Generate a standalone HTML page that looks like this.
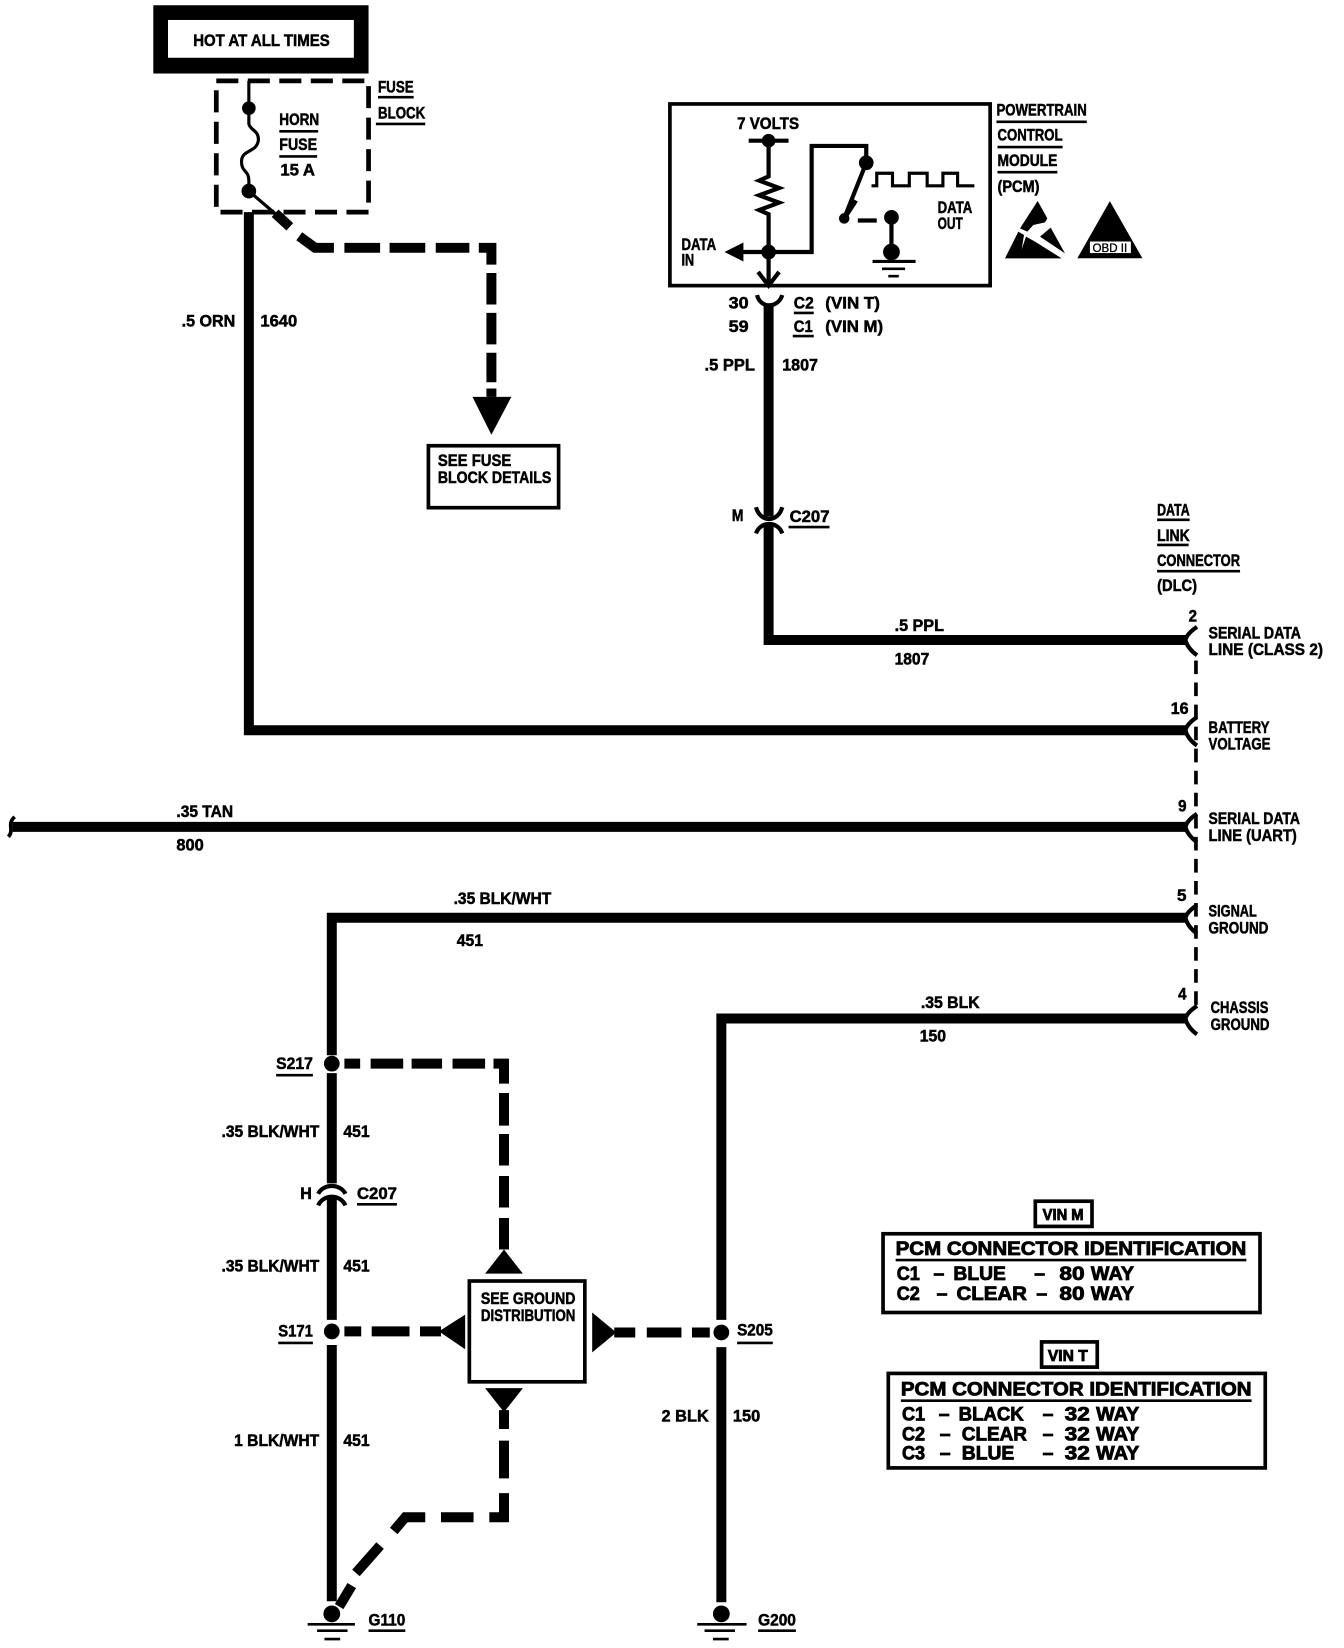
<!DOCTYPE html>
<html>
<head>
<meta charset="utf-8">
<style>
html,body{margin:0;padding:0;background:#fff;width:1344px;height:1648px;overflow:hidden}
svg{display:block}
text{font-family:"Liberation Sans",sans-serif;font-weight:bold;font-size:16px;fill:#000;stroke:#000;stroke-width:.5}
.t text{font-size:18.5px;stroke-width:.8}
.w{fill:none;stroke:#000;stroke-width:9.5}
.d{fill:none;stroke:#000;stroke-width:9.5;stroke-linecap:butt}
.n{fill:none;stroke:#000;stroke-width:3}
.m{fill:none;stroke:#000;stroke-width:4}
.u{stroke:#000;stroke-width:2.5}
.b{fill:#fff;stroke:#000;stroke-width:3.5}
</style>
</head>
<body>
<svg xmlns="http://www.w3.org/2000/svg" width="1344" height="1648" viewBox="0 0 1280 1569.5">
<rect width="1280" height="1570" fill="#fff"/>

<!-- HOT -->
<rect x="146" y="5" width="205" height="65" fill="#000"/>
<rect x="160" y="19" width="177" height="36" fill="#fff"/>
<text x="184" y="44" textLength="130" lengthAdjust="spacingAndGlyphs">HOT AT ALL TIMES</text>

<!-- fuse block -->
<rect x="206" y="77" width="145" height="125" fill="none" stroke="#000" stroke-width="4.5" stroke-dasharray="21 9"/>
<path class="n" d="M237 77V103"/>
<circle cx="237" cy="103" r="6.5"/>
<path class="n" d="M237 108V118C238 124 247 124 246 134C244 146 230 142 230 154C230 164 237 162 237 172V182"/>
<circle cx="237" cy="182" r="7"/>
<path class="n" d="M237 182L264 205"/>
<path class="w" d="M237 202V695.500H1131"/>
<text x="360" y="88" textLength="34" lengthAdjust="spacingAndGlyphs">FUSE</text><path class="u" d="M360 92.500H394"/>
<text x="360" y="113" textLength="45" lengthAdjust="spacingAndGlyphs">BLOCK</text><path class="u" d="M358 118H405"/>
<text x="266" y="119" textLength="38" lengthAdjust="spacingAndGlyphs">HORN</text><path class="u" d="M266 125H303"/>
<text x="266" y="143" textLength="36" lengthAdjust="spacingAndGlyphs">FUSE</text><path class="u" d="M266 149H302"/>
<text x="267" y="167" textLength="33" lengthAdjust="spacingAndGlyphs">15 A</text>
<text x="173" y="311" textLength="51" lengthAdjust="spacingAndGlyphs">.5 ORN</text>
<text x="248" y="311" textLength="35" lengthAdjust="spacingAndGlyphs">1640</text>

<!-- fuse details dashed -->
<path class="d" d="M262 203L276 216M285 225L300 236H318M328 236H362M371 236H405M415 236H447M456 236H468V252M468 260V290M468 298V328M468 336V364M468 370V378"/>
<polygon points="450,378 487,378 468,414"/>
<rect class="b" x="408" y="424.500" width="124" height="59"/>
<text x="417" y="444" textLength="70" lengthAdjust="spacingAndGlyphs">SEE FUSE</text>
<text x="417" y="460" textLength="108" lengthAdjust="spacingAndGlyphs">BLOCK DETAILS</text>

<!-- PCM -->
<rect class="b" x="638" y="99" width="305" height="173"/>
<text x="702" y="123" textLength="59" lengthAdjust="spacingAndGlyphs">7 VOLTS</text>
<path class="m" d="M713 134H751"/>
<circle cx="732" cy="134" r="6.500"/>
<path class="m" d="M732 134V168L723 172L742 179L723 186L742 193L723 200L732 204V272"/>
<circle cx="732" cy="240" r="7"/>
<path class="m" d="M722 259L732 272L742 259"/>
<path class="m" d="M695 240H773V139H825V155"/>
<polygon points="690,240 708,231 708,249"/>
<circle cx="825" cy="155" r="7"/>
<path class="m" d="M825 155L804 208"/>
<polygon points="804,212 810,188 817,192"/>
<circle cx="804" cy="208" r="5"/>
<path class="m" d="M817 210H835"/>
<circle cx="849" cy="207" r="7"/>
<path class="m" d="M849 207V240"/>
<circle cx="849" cy="240" r="8"/>
<path class="m" d="M831 249H872" style="stroke-width:3"/>
<path class="m" d="M840 256H862" style="stroke-width:2.500"/>
<path class="m" d="M846 263H856" style="stroke-width:2.500"/>
<path class="n" d="M830 177H835V165H850V177H866V165H883V177H898V165H912V177H928"/>
<text x="893" y="203" textLength="33" lengthAdjust="spacingAndGlyphs">DATA</text>
<text x="893" y="218" textLength="24" lengthAdjust="spacingAndGlyphs">OUT</text>
<text x="649" y="238" textLength="33" lengthAdjust="spacingAndGlyphs">DATA</text>
<text x="649" y="253" textLength="12" lengthAdjust="spacingAndGlyphs">IN</text>
<text x="949" y="110" textLength="86" lengthAdjust="spacingAndGlyphs">POWERTRAIN</text><path class="u" d="M949 116H1035"/>
<text x="950" y="134" textLength="62" lengthAdjust="spacingAndGlyphs">CONTROL</text><path class="u" d="M950 140H1012"/>
<text x="950" y="158" textLength="57" lengthAdjust="spacingAndGlyphs">MODULE</text><path class="u" d="M950 164H1007"/>
<text x="950" y="183" textLength="40" lengthAdjust="spacingAndGlyphs">(PCM)</text>
<!-- ESD -->
<g transform="translate(942.86,180.95) scale(.31746)">
<polygon points="143,33 172,85 165,97 130,105 112,125 90,115"/>
<polygon points="150,140 182,113 225,190"/>
<polygon points="45,205 85,125 102,135 95,178 108,140 135,155 215,205"/>
</g>
<!-- OBD -->
<polygon points="1026,246 1088,246 1057,191.500"/>
<rect x="1038" y="230" width="39" height="11" fill="#fff"/>
<text x="1040.500" y="240" textLength="33" lengthAdjust="spacingAndGlyphs" style="font-size:11px;font-weight:normal;stroke-width:.3">OBD II</text>

<!-- PCM output wire -->
<path class="m" d="M721 281C724 294 741 294 745 281"/>
<path class="w" d="M732 291V492"/>
<path class="m" d="M720 483C724 498 741 498 745 483"/>
<path class="m" d="M720 508C724 496 741 496 745 508"/>
<path class="w" d="M732 500V609.500H1131"/>
<text x="694" y="294" textLength="19" lengthAdjust="spacingAndGlyphs">30</text>
<text x="694" y="316" textLength="19" lengthAdjust="spacingAndGlyphs">59</text>
<text x="756" y="294" textLength="19" lengthAdjust="spacingAndGlyphs">C2</text><path class="u" d="M756 298H775"/>
<text x="756" y="316" textLength="18" lengthAdjust="spacingAndGlyphs">C1</text><path class="u" d="M755 320H775"/>
<text x="786" y="294" textLength="52" lengthAdjust="spacingAndGlyphs">(VIN T)</text>
<text x="786" y="316" textLength="55" lengthAdjust="spacingAndGlyphs">(VIN M)</text>
<text x="671" y="353" textLength="48" lengthAdjust="spacingAndGlyphs">.5 PPL</text>
<text x="745" y="353" textLength="34" lengthAdjust="spacingAndGlyphs">1807</text>
<text x="697" y="496" textLength="11" lengthAdjust="spacingAndGlyphs">M</text>
<text x="752" y="497" textLength="38" lengthAdjust="spacingAndGlyphs">C207</text><path class="u" d="M751 502H790"/>
<text x="852" y="601" textLength="47" lengthAdjust="spacingAndGlyphs">.5 PPL</text>
<text x="852" y="633" textLength="33" lengthAdjust="spacingAndGlyphs">1807</text>

<!-- DLC -->
<text x="1102" y="491" textLength="31" lengthAdjust="spacingAndGlyphs">DATA</text><path class="u" d="M1102 495H1133"/>
<text x="1102" y="515" textLength="31" lengthAdjust="spacingAndGlyphs">LINK</text><path class="u" d="M1102 519H1132"/>
<text x="1102" y="539" textLength="79" lengthAdjust="spacingAndGlyphs">CONNECTOR</text><path class="u" d="M1102 544H1181"/>
<text x="1102" y="563" textLength="38" lengthAdjust="spacingAndGlyphs">(DLC)</text>

<!-- wires to DLC -->
<path class="w" d="M12 787.500H1131"/>
<path class="n" d="M14 778C6 785 14 790 8 797" style="stroke-width:3.500"/>
<path class="w" d="M316 1005V874H1131"/>
<path class="w" d="M687 1257V970H1131"/>
<path class="w" d="M687 1283V1526"/>
<path class="m" d="M1140 597C1134 601 1130 605 1129 609.500C1130 614 1134 620 1140 624"/>
<path class="m" d="M1140 683C1134 687 1130 691 1129 695.500C1130 700 1134 706 1140 710"/>
<path class="m" d="M1140 775C1134 779 1130 783 1129 787.500C1130 792 1134 798 1140 802"/>
<path class="m" d="M1140 862C1134 866 1130 870 1129 874C1130 879 1134 885 1140 889"/>
<path class="m" d="M1140 958C1134 962 1130 966 1129 970C1130 975 1134 981 1140 985"/>
<path d="M1139 629V957" fill="none" stroke="#000" stroke-width="3.500" stroke-dasharray="13 8"/>

<text x="1132" y="592" textLength="8" lengthAdjust="spacingAndGlyphs">2</text>
<text x="1151" y="608" textLength="88" lengthAdjust="spacingAndGlyphs">SERIAL DATA</text>
<text x="1151" y="624" textLength="109" lengthAdjust="spacingAndGlyphs">LINE (CLASS 2)</text>
<text x="1115" y="680" textLength="17" lengthAdjust="spacingAndGlyphs">16</text>
<text x="1151" y="698" textLength="58" lengthAdjust="spacingAndGlyphs">BATTERY</text>
<text x="1151" y="714" textLength="59" lengthAdjust="spacingAndGlyphs">VOLTAGE</text>
<text x="1122" y="773" textLength="8" lengthAdjust="spacingAndGlyphs">9</text>
<text x="1151" y="785" textLength="87" lengthAdjust="spacingAndGlyphs">SERIAL DATA</text>
<text x="1151" y="801" textLength="84" lengthAdjust="spacingAndGlyphs">LINE (UART)</text>
<text x="1121" y="858" textLength="9" lengthAdjust="spacingAndGlyphs">5</text>
<text x="1151" y="873" textLength="46" lengthAdjust="spacingAndGlyphs">SIGNAL</text>
<text x="1151" y="889" textLength="57" lengthAdjust="spacingAndGlyphs">GROUND</text>
<text x="1122" y="952" textLength="8" lengthAdjust="spacingAndGlyphs">4</text>
<text x="1153" y="965" textLength="55" lengthAdjust="spacingAndGlyphs">CHASSIS</text>
<text x="1153" y="981" textLength="56" lengthAdjust="spacingAndGlyphs">GROUND</text>

<text x="168" y="778" textLength="54" lengthAdjust="spacingAndGlyphs">.35 TAN</text>
<text x="168" y="810" textLength="26" lengthAdjust="spacingAndGlyphs">800</text>
<text x="432" y="861" textLength="93" lengthAdjust="spacingAndGlyphs">.35 BLK/WHT</text>
<text x="435" y="901" textLength="25" lengthAdjust="spacingAndGlyphs">451</text>
<text x="877" y="960" textLength="56" lengthAdjust="spacingAndGlyphs">.35 BLK</text>
<text x="876" y="992" textLength="25" lengthAdjust="spacingAndGlyphs">150</text>

<!-- left vertical -->
<path class="w" d="M316 1022V1127"/>
<path class="m" d="M303 1137C308 1127 324 1127 329 1137"/>
<path class="m" d="M303 1148C308 1137 324 1137 329 1148"/>
<path class="w" d="M316 1141V1257"/>
<path class="w" d="M316 1281V1525"/>
<circle cx="316" cy="1013" r="7.500"/>
<circle cx="316" cy="1268" r="7.500"/>
<circle cx="687" cy="1269" r="7.500"/>
<text x="263" y="1018" textLength="35" lengthAdjust="spacingAndGlyphs">S217</text><path class="u" d="M263 1024H298"/>
<text x="211" y="1083" textLength="93" lengthAdjust="spacingAndGlyphs">.35 BLK/WHT</text>
<text x="327" y="1083" textLength="25" lengthAdjust="spacingAndGlyphs">451</text>
<text x="286" y="1142" textLength="11" lengthAdjust="spacingAndGlyphs">H</text>
<text x="340" y="1142" textLength="38" lengthAdjust="spacingAndGlyphs">C207</text><path class="u" d="M340 1147H378"/>
<text x="211" y="1211" textLength="93" lengthAdjust="spacingAndGlyphs">.35 BLK/WHT</text>
<text x="327" y="1211" textLength="25" lengthAdjust="spacingAndGlyphs">451</text>
<text x="265" y="1273" textLength="33" lengthAdjust="spacingAndGlyphs">S171</text><path class="u" d="M265 1279H298"/>
<text x="223" y="1377" textLength="81" lengthAdjust="spacingAndGlyphs">1 BLK/WHT</text>
<text x="327" y="1377" textLength="25" lengthAdjust="spacingAndGlyphs">451</text>
<text x="702" y="1272" textLength="34" lengthAdjust="spacingAndGlyphs">S205</text><path class="u" d="M702 1279H736"/>
<text x="630" y="1354" textLength="45" lengthAdjust="spacingAndGlyphs">2 BLK</text>
<text x="698" y="1354" textLength="26" lengthAdjust="spacingAndGlyphs">150</text>

<!-- ground distribution dashes -->
<path class="d" d="M328 1013H343M353 1013H384M392 1013H421M431 1013H462M470 1013H480V1032M480 1041V1072M480 1080V1110M480 1120V1150M480 1160V1190"/>
<polygon points="462,1213 498,1213 480,1190"/>
<path class="d" d="M328 1268H344M354 1268H390M400 1268H420"/>
<polygon points="418,1268 443,1252 443,1285"/>
<rect class="b" x="447" y="1220" width="110" height="96"/>
<text x="458" y="1242" textLength="90" lengthAdjust="spacingAndGlyphs">SEE GROUND</text>
<text x="458" y="1258" textLength="90" lengthAdjust="spacingAndGlyphs">DISTRIBUTION</text>
<polygon points="564,1250 564,1288 587,1269"/>
<path class="d" d="M585 1269H605M616 1269H649M659 1269H676"/>
<polygon points="462,1322 498,1322 480,1345"/>
<path class="d" d="M480 1343V1361M480 1372V1408M480 1422V1445H466M451 1445H420M405 1445H386L375 1458M362 1472L339 1498M335 1510L323 1530" />

<!-- grounds -->
<circle cx="316" cy="1537" r="8"/>
<path d="M293 1547H338" stroke="#000" stroke-width="2.500"/>
<path d="M302 1553H331" stroke="#000" stroke-width="2.500"/>
<path d="M309 1561H324" stroke="#000" stroke-width="2.500"/>
<circle cx="687" cy="1537" r="8"/>
<path d="M664 1547H711" stroke="#000" stroke-width="2.500"/>
<path d="M671 1553H700" stroke="#000" stroke-width="2.500"/>
<path d="M679 1561H694" stroke="#000" stroke-width="2.500"/>
<text x="351" y="1548" textLength="35" lengthAdjust="spacingAndGlyphs">G110</text><path class="u" d="M351 1553H386"/>
<text x="722" y="1548" textLength="36" lengthAdjust="spacingAndGlyphs">G200</text><path class="u" d="M722 1553H758"/>

<!-- tables -->
<g class="t">
<rect class="b" x="986" y="1144" width="54" height="24"/>
<text x="993" y="1162" textLength="39" lengthAdjust="spacingAndGlyphs" style="font-size:15px">VIN M</text>
<rect class="b" x="841" y="1175" width="359" height="75"/>
<text x="853" y="1195" textLength="334" lengthAdjust="spacingAndGlyphs">PCM CONNECTOR IDENTIFICATION</text><path class="u" d="M853 1200H1187"/>
<text x="854" y="1219" textLength="22" lengthAdjust="spacingAndGlyphs">C1</text><text x="889" y="1219">–</text><text x="908" y="1219" textLength="50" lengthAdjust="spacingAndGlyphs">BLUE</text><text x="985" y="1219">–</text><text x="1009" y="1219" textLength="24" lengthAdjust="spacingAndGlyphs">80</text><text x="1039" y="1219" textLength="41" lengthAdjust="spacingAndGlyphs">WAY</text>
<text x="854" y="1238" textLength="22" lengthAdjust="spacingAndGlyphs">C2</text><text x="892" y="1238">–</text><text x="911" y="1238" textLength="67" lengthAdjust="spacingAndGlyphs">CLEAR</text><text x="987" y="1238">–</text><text x="1009" y="1238" textLength="24" lengthAdjust="spacingAndGlyphs">80</text><text x="1039" y="1238" textLength="41" lengthAdjust="spacingAndGlyphs">WAY</text>

<rect class="b" x="992" y="1278" width="53" height="24"/>
<text x="998" y="1296" textLength="38" lengthAdjust="spacingAndGlyphs" style="font-size:15px">VIN T</text>
<rect class="b" x="846" y="1308" width="359" height="90"/>
<text x="858" y="1329" textLength="334" lengthAdjust="spacingAndGlyphs">PCM CONNECTOR IDENTIFICATION</text><path class="u" d="M858 1334H1192"/>
<text x="859" y="1353" textLength="22" lengthAdjust="spacingAndGlyphs">C1</text><text x="894" y="1353">–</text><text x="913" y="1353" textLength="62" lengthAdjust="spacingAndGlyphs">BLACK</text><text x="993" y="1353">–</text><text x="1014" y="1353" textLength="24" lengthAdjust="spacingAndGlyphs">32</text><text x="1044" y="1353" textLength="41" lengthAdjust="spacingAndGlyphs">WAY</text>
<text x="859" y="1372" textLength="22" lengthAdjust="spacingAndGlyphs">C2</text><text x="895" y="1372">–</text><text x="916" y="1372" textLength="62" lengthAdjust="spacingAndGlyphs">CLEAR</text><text x="993" y="1372">–</text><text x="1014" y="1372" textLength="24" lengthAdjust="spacingAndGlyphs">32</text><text x="1044" y="1372" textLength="41" lengthAdjust="spacingAndGlyphs">WAY</text>
<text x="859" y="1390" textLength="22" lengthAdjust="spacingAndGlyphs">C3</text><text x="895" y="1390">–</text><text x="916" y="1390" textLength="50" lengthAdjust="spacingAndGlyphs">BLUE</text><text x="993" y="1390">–</text><text x="1014" y="1390" textLength="24" lengthAdjust="spacingAndGlyphs">32</text><text x="1044" y="1390" textLength="41" lengthAdjust="spacingAndGlyphs">WAY</text>
</g>
</svg>
</body>
</html>
